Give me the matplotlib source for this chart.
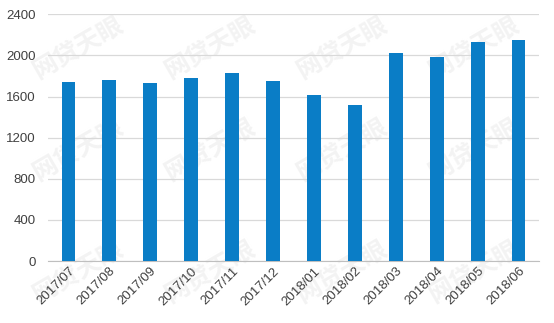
import matplotlib
matplotlib.use("Agg")
import matplotlib.pyplot as plt

months = ["2017/07", "2017/08", "2017/09", "2017/10", "2017/11", "2017/12",
          "2018/01", "2018/02", "2018/03", "2018/04", "2018/05", "2018/06"]
values = [1741, 1761, 1732, 1780, 1829, 1751, 1615, 1518, 2024, 1985, 2131, 2150]
yticks = [0, 400, 800, 1200, 1600, 2000, 2400]
watermark = "网贷天眼"

fig = plt.figure(figsize=(5.54, 3.23), dpi=100)
ax = fig.add_axes([48/554, 1 - 261/323, (539-48)/554, (261-14.3)/323])
ax.patch.set_alpha(0)

x = list(range(len(months)))
ax.bar(x, values, width=0.34, color="#0A7DC6", zorder=3)

ax.set_xlim(-0.5, len(months) - 0.5)
ax.set_ylim(0, 2400)
ax.set_yticks(yticks)
ax.set_yticklabels([str(v) for v in yticks])
ax.set_xticks(x)
ax.set_xticklabels(months, rotation=45, ha="right", rotation_mode="anchor")
ax.grid(axis="y", color="#D9D9D9", linewidth=0.9, zorder=0)
for s in ["top", "right", "left"]:
    ax.spines[s].set_visible(False)
ax.spines["bottom"].set_color("#BFBFBF")
ax.tick_params(axis="both", length=0, labelsize=9.5, colors="#404040", labelfontfamily="Liberation Sans")
ax.tick_params(axis="y", pad=9)
ax.tick_params(axis="x", pad=3)

# faint watermarks
for cy in [48, 150, 272]:
    for cx in [78, 210, 342, 474]:
        fig.text(cx/554, 1 - cy/323, watermark, family=["Noto Sans CJK SC", "DejaVu Sans"],
                 fontsize=18, color="#F3F3F3", rotation=30, ha="center", va="center",
                 zorder=-1, fontweight="bold")

fig.savefig("out.png", dpi=100)
